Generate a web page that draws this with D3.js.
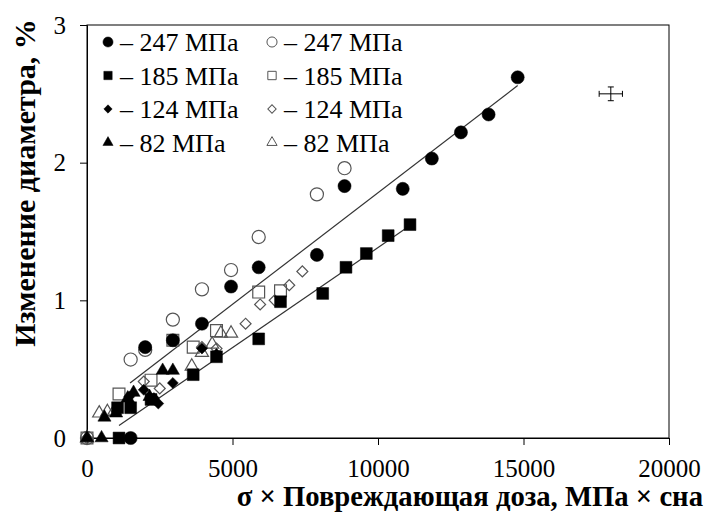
<!DOCTYPE html>
<meta charset="utf-8">
<head>
	<title>Изменение диаметра</title>
	<script type="text/javascript" src="https://cdnjs.cloudflare.com/ajax/libs/d3/7.8.5/d3.min.js"></script>
	<style>
		body { margin: 0; background: #fff; }
		text { font-family: "Liberation Serif", "Times New Roman", serif; fill: #000; }
		.axis path, .axis line { stroke: #000; }
	</style>
</head>
<body>
	<div id="chart"></div>
	<script>
		// data: [dose, change %]
		var filled247 = [[1500,0],[2000,0.66],[2950,0.71],[3950,0.83],[4950,1.10],[5900,1.24],[7900,1.33],[8850,1.83],[10850,1.81],[11850,2.03],[12850,2.22],[13800,2.35],[14800,2.62]];
		var open247 = [[0,0],[1500,0.57],[2000,0.64],[2950,0.86],[3950,1.08],[4950,1.22],[5900,1.46],[7900,1.77],[8850,1.96]];
		var filled185 = [[1100,0],[1050,0.22],[1500,0.22],[2200,0.28],[3650,0.46],[4450,0.59],[5900,0.72],[6650,0.99],[8100,1.05],[8900,1.24],[9600,1.34],[10350,1.47],[11100,1.55]];
		var open185 = [[0,0],[1100,0.32],[2200,0.42],[2950,0.71],[3650,0.66],[4450,0.78],[5900,1.06],[6650,1.07]];
		var filled124 = [[1450,0.30],[1950,0.35],[2300,0.29],[2450,0.25],[2950,0.40],[3950,0.65],[4450,0.61]];
		var open124 = [[0,0],[1950,0.41],[2500,0.36],[3950,0.66],[4450,0.65],[5450,0.83],[5950,0.97],[6450,1.00],[6950,1.11],[7400,1.21]];
		var filled82 = [[0,0],[500,0],[600,0.15],[1000,0.18],[1400,0.29],[1600,0.33],[2150,0.30],[2600,0.49],[2950,0.49]];
		var open82 = [[0,0],[420,0.18],[700,0.19],[950,0.20],[3600,0.52],[3950,0.62],[4300,0.68],[4600,0.76],[4950,0.76]];
		// trend lines
		var line247 = [[1480,0.40],[14800,2.56]];
		var line185 = [[1100,0.09],[11150,1.55]];
		// error cross
		var errPoint = [18000, 2.5], errX = 400, errY = 0.05;
		var xTicks = [0,5000,10000,15000,20000];
		var yTicks = [0,1,2,3];
		var pressures = ["247","185","124","82"];

		var w = 706, h = 515;
		var pLeft = 87, pRight = 669, pTop = 25, pBottom = 438;

		var svg = d3.select("#chart").append("svg").attr("width", w).attr("height", h);

		var x = d3.scaleLinear().domain([0, 20000]).range([pLeft, pRight]);
		var y = d3.scaleLinear().domain([0, 3]).range([pBottom, pTop]);

		var xAxis = svg.append("g").attr("class", "axis")
			.attr("transform", "translate(0," + pBottom + ")")
			.call(d3.axisBottom(x).tickValues(xTicks).tickSize(7).tickPadding(14).tickFormat(d3.format("d")));
		xAxis.selectAll("text").style("font-size", "25px");

		var yAxis = svg.append("g").attr("class", "axis")
			.attr("transform", "translate(" + pLeft + ",0)")
			.call(d3.axisLeft(y).tickValues(yTicks).tickSize(7).tickPadding(14).tickFormat(d3.format("d")));
		yAxis.selectAll("text").style("font-size", "25px");

		// frame
		svg.append("rect").attr("x", pLeft).attr("y", pTop)
			.attr("width", pRight - pLeft).attr("height", pBottom - pTop)
			.style("fill", "none").style("stroke", "#000").style("stroke-width", 1);

		// axis titles
		svg.append("text")
			.attr("x", 703).attr("y", 506)
			.attr("text-anchor", "end")
			.style("font-size", "28.7px").style("font-weight", "bold")
			.text("σ × Повреждающая доза, МПа × сна");
		svg.append("text")
			.attr("transform", "translate(35,183) rotate(-90)")
			.attr("text-anchor", "middle")
			.style("font-size", "30px").style("font-weight", "bold")
			.text("Изменение диаметра, %");

		// lines
		var lineGen = d3.line().x(function (d) { return x(d[0]); }).y(function (d) { return y(d[1]); });
		[line247, line185].forEach(function (l) {
			svg.append("path").datum(l).attr("d", lineGen)
				.style("fill", "none").style("stroke", "#333").style("stroke-width", 1.2);
		});

		// markers (diamond = rotated square)
		var shapes = [d3.symbolCircle, d3.symbolSquare, d3.symbolSquare, d3.symbolTriangle];
		var rot = [0, 0, 45, 0];
		var sizes = [135, 140, 60, 75];
		var series = [
			{ data: open247, s: 0, open: true }, { data: open185, s: 1, open: true },
			{ data: open124, s: 2, open: true }, { data: open82, s: 3, open: true },
			{ data: filled247, s: 0, open: false }, { data: filled185, s: 1, open: false },
			{ data: filled124, s: 2, open: false }, { data: filled82, s: 3, open: false }
		];
		series.forEach(function (sr) {
			svg.append("g").selectAll("path")
				.data(sr.data).enter().append("path")
				.attr("transform", function (d) { return "translate(" + x(d[0]) + "," + y(d[1]) + ") rotate(" + rot[sr.s] + ")"; })
				.attr("d", d3.symbol().type(shapes[sr.s]).size(sizes[sr.s]))
				.style("fill", sr.open ? "none" : "#000")
				.style("stroke", sr.open ? "#555" : "#000")
				.style("stroke-width", sr.open ? 1.2 : 0.5);
		});

		// error cross
		var ex = x(errPoint[0]), ey = y(errPoint[1]);
		var eg = svg.append("g").style("stroke", "#000").style("stroke-width", 1);
		eg.append("line").attr("x1", x(errPoint[0] - errX)).attr("x2", x(errPoint[0] + errX)).attr("y1", ey).attr("y2", ey);
		eg.append("line").attr("x1", ex).attr("x2", ex).attr("y1", y(errPoint[1] + errY)).attr("y2", y(errPoint[1] - errY));
		eg.append("line").attr("x1", x(errPoint[0] - errX)).attr("x2", x(errPoint[0] - errX)).attr("y1", ey - 3).attr("y2", ey + 3);
		eg.append("line").attr("x1", x(errPoint[0] + errX)).attr("x2", x(errPoint[0] + errX)).attr("y1", ey - 3).attr("y2", ey + 3);
		eg.append("line").attr("x1", ex - 3).attr("x2", ex + 3).attr("y1", y(errPoint[1] + errY)).attr("y2", y(errPoint[1] + errY));
		eg.append("line").attr("x1", ex - 3).attr("x2", ex + 3).attr("y1", y(errPoint[1] - errY)).attr("y2", y(errPoint[1] - errY));

		// legend
		var legendSizes = [80, 70, 35, 45];
		pressures.forEach(function (p, i) {
			var ly = 42 + i * 33.5;
			[0, 1].forEach(function (c) {
				var lx = c === 0 ? 108 : 272;
				svg.append("path")
					.attr("transform", "translate(" + lx + "," + ly + ") rotate(" + rot[i] + ")")
					.attr("d", d3.symbol().type(shapes[i]).size(legendSizes[i]))
					.style("fill", c === 0 ? "#000" : "none")
					.style("stroke", c === 0 ? "#000" : "#555")
					.style("stroke-width", c === 0 ? 0.5 : 1);
				svg.append("text")
					.attr("x", lx + 12).attr("y", ly + 9)
					.style("font-size", "26px")
					.text("– " + p + " МПа");
			});
		});
	</script>
</body>
</html>
